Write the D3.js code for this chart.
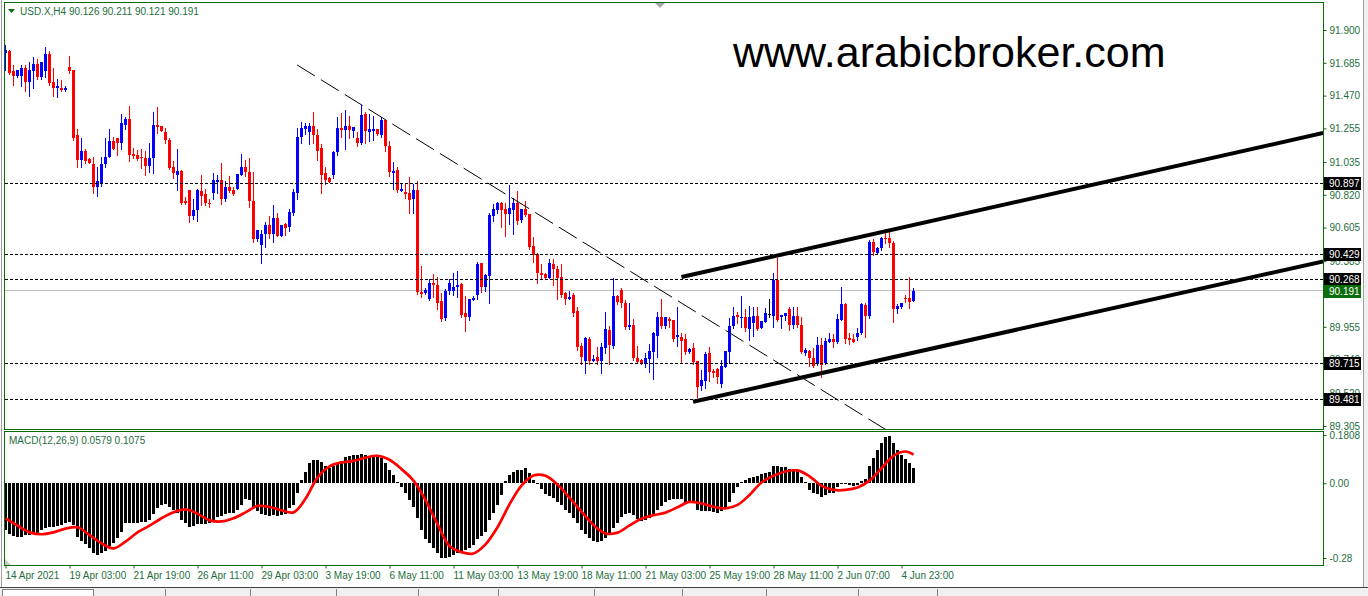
<!DOCTYPE html>
<html>
<head>
<meta charset="utf-8">
<script src="https://d3js.org/d3.v7.min.js"></script>
<style>
  body { margin: 0; background: #fff; }
  svg { display: block; font-family: "Liberation Sans", Arial, sans-serif; }
</style>
</head>
<body>
<svg id="chart" width="1368" height="596"></svg>
<script>
// USD.X H4 candles, [open, high, low, close]
const ohlc = [
  [91.75,91.80,91.64,91.77],[91.76,91.77,91.61,91.62],[91.63,91.67,91.54,91.60],[91.60,91.64,91.59,91.64],
  [91.60,91.67,91.53,91.65],[91.65,91.67,91.50,91.56],[91.56,91.69,91.47,91.64],[91.63,91.72,91.52,91.68],
  [91.68,91.71,91.58,91.59],[91.59,91.69,91.58,91.69],[91.63,91.79,91.59,91.74],[91.74,91.76,91.54,91.55],
  [91.56,91.65,91.47,91.52],[91.52,91.58,91.46,91.53],[91.52,91.57,91.50,91.51],[91.51,91.53,91.50,91.52],
  [91.66,91.73,91.62,91.63],[91.64,91.64,91.18,91.19],[91.21,91.25,91.00,91.05],[91.05,91.19,91.00,91.11],
  [91.11,91.12,91.03,91.04],[91.055,91.064,91.031,91.031],[91.02,91.07,90.83,90.87],[90.87,91.00,90.81,90.91],
  [90.90,91.07,90.88,91.02],[91.02,91.19,91.00,91.07],[91.07,91.25,91.07,91.17],[91.17,91.20,91.12,91.12],
  [91.19,91.19,91.08,91.16],[91.16,91.35,91.12,91.29],[91.28,91.33,91.25,91.32],[91.32,91.40,91.04,91.08],
  [91.085,91.13,91.064,91.074],[91.081,91.114,91.048,91.053],[91.068,91.118,90.994,91.059],[91.06,91.11,90.95,91.01],
  [91.01,91.16,90.97,91.06],[91.06,91.36,90.96,91.28],[91.278,91.395,91.227,91.267],[91.271,91.271,91.24,91.24],
  [91.23,91.26,91.16,91.18],[91.18,91.19,90.99,90.994],[91.00,91.04,90.93,90.96],[90.95,91.12,90.85,90.976],
  [90.976,90.98,90.76,90.764],[90.777,90.808,90.76,90.764],[90.85,90.85,90.64,90.68],[90.68,90.79,90.66,90.72],
  [90.72,90.86,90.65,90.85],[90.845,90.95,90.75,90.815],[90.825,90.856,90.756,90.764],[90.769,90.791,90.743,90.764],
  [90.83,90.96,90.79,90.92],[90.904,90.95,90.83,90.917],[90.92,91.03,90.76,90.79],[90.79,90.91,90.78,90.87],
  [90.874,90.943,90.841,90.845],[90.852,90.874,90.819,90.823],[90.858,90.957,90.856,90.957],[90.95,91.09,90.95,91.00],
  [91.00,91.05,90.94,90.97],[90.97,91.06,90.74,90.78],[90.78,90.97,90.51,90.53],[90.53,90.59,90.52,90.59],
  [90.49,90.59,90.37,90.56],[90.56,90.64,90.48,90.62],[90.62,90.68,90.54,90.56],[90.56,90.75,90.51,90.67],
  [90.67,90.70,90.55,90.55],[90.55,90.62,90.55,90.62],[90.627,90.633,90.557,90.605],[90.61,90.73,90.58,90.71],
  [90.70,90.86,90.69,90.84],[90.83,91.26,90.79,91.20],[91.20,91.30,91.16,91.26],[91.25,91.29,91.22,91.27],
  [91.23,91.29,91.15,91.27],[91.27,91.36,91.16,91.21],[91.21,91.25,91.05,91.11],[91.13,91.15,90.83,90.95],
  [90.96,91.00,90.89,90.92],[90.928,90.939,90.906,90.906],[90.95,91.11,90.93,91.10],[91.10,91.33,91.08,91.26],
  [91.258,91.358,91.197,91.245],[91.245,91.376,91.12,91.271],[91.271,91.337,91.19,91.245],[91.24,91.262,91.197,91.262],
  [91.19,91.234,91.14,91.162],[91.16,91.41,91.15,91.34],[91.35,91.36,91.16,91.24],[91.234,91.35,91.173,91.251],
  [91.24,91.337,91.179,91.251],[91.251,91.251,91.212,91.216],[91.21,91.33,91.20,91.31],[91.31,91.31,91.11,91.14],
  [91.14,91.17,90.94,90.97],[90.965,91.035,90.858,90.976],[90.98,91.00,90.84,90.85],[90.847,90.895,90.847,90.858],
  [90.836,90.891,90.797,90.826],[90.834,90.939,90.703,90.786],[90.793,90.891,90.703,90.852],[90.85,90.91,90.17,90.18],
  [90.186,90.354,90.153,90.170],[90.175,90.208,90.170,90.197],[90.14,90.27,90.13,90.24],[90.24,90.30,90.153,90.229],
  [90.23,90.28,90.07,90.11],[90.125,90.175,89.996,90.004],[90.01,90.20,90.00,90.19],[90.19,90.27,90.17,90.24],
  [90.192,90.306,90.164,90.218],[90.214,90.323,90.153,90.229],[90.236,90.24,90.017,90.033],[90.044,90.159,89.93,90.017],
  [90.022,90.135,90.00,90.135],[90.131,90.159,90.131,90.142],[90.164,90.382,90.135,90.367],[90.371,90.371,90.186,90.218],
  [90.218,90.301,90.192,90.295],[90.288,90.703,90.109,90.688],[90.684,90.76,90.651,90.725],[90.721,90.771,90.703,90.764],
  [90.764,90.771,90.611,90.721],[90.725,90.764,90.552,90.694],[90.694,90.884,90.629,90.732],[90.721,90.797,90.563,90.764],
  [90.764,90.843,90.627,90.651],[90.655,90.725,90.644,90.725],[90.725,90.78,90.681,90.688],[90.694,90.694,90.465,90.476],
  [90.485,90.546,90.382,90.426],[90.432,90.441,90.245,90.31],[90.306,90.367,90.273,90.295],[90.301,90.31,90.273,90.277],
  [90.273,90.397,90.273,90.376],[90.367,90.397,90.229,90.332],[90.336,90.354,90.137,90.273],[90.28,90.367,90.153,90.164],
  [90.175,90.186,90.105,90.135],[90.135,90.19,90.135,90.153],[90.164,90.179,90.026,90.048],[90.059,90.087,89.803,89.825],
  [89.83,89.847,89.712,89.76],[89.734,89.891,89.655,89.88],[89.876,89.891,89.712,89.734],[89.731,89.771,89.731,89.742],
  [89.755,89.825,89.712,89.731],[89.734,89.847,89.655,89.825],[89.814,90.055,89.782,89.941],[89.934,89.963,89.712,89.836],
  [89.83,90.273,89.814,90.157],[90.157,90.164,90.105,90.12],[90.197,90.208,90.087,90.114],[90.109,90.131,89.941,89.956],
  [89.956,90.109,89.939,89.967],[89.967,90.007,89.738,89.749],[89.749,89.83,89.727,89.727],[89.738,89.742,89.712,89.716],
  [89.712,89.786,89.69,89.749],[89.744,89.84,89.661,89.799],[89.792,89.919,89.611,89.913],[89.897,90.055,89.76,90.022],
  [90.022,90.135,89.945,89.963],[89.963,90.022,89.945,90.017],[90.006,90.017,89.956,89.996],[90.0,90.0,89.865,89.876],
  [89.886,90.087,89.83,89.902],[89.886,89.913,89.727,89.865],[89.876,89.908,89.777,89.792],[89.792,89.814,89.786,89.808],
  [89.814,89.847,89.712,89.727],[89.731,89.731,89.498,89.563],[89.567,89.672,89.541,89.607],[89.603,89.792,89.552,89.777],
  [89.786,89.825,89.603,89.657],[89.668,89.677,89.624,89.65],[89.677,89.683,89.585,89.629],[89.581,89.738,89.559,89.699],
  [89.694,89.797,89.69,89.797],[89.792,90.011,89.716,89.961],[89.963,90.087,89.945,90.026],[90.03,90.05,89.978,90.022],
  [90.015,90.159,89.952,90.022],[90.017,90.072,89.928,89.95],[89.941,90.092,89.869,90.022],[89.978,90.087,89.895,90.026],
  [90.028,90.087,89.934,89.941],[89.95,89.996,89.945,89.993],[89.989,90.076,89.985,90.044],[90.041,90.135,90.022,90.041],
  [90.026,90.306,89.956,90.262],[90.262,90.408,89.996,90.0],[90.022,90.033,89.945,90.033],[90.026,90.048,90.0,90.044],
  [90.07,90.087,89.934,89.967],[89.967,90.087,89.945,90.026],[90.026,90.087,89.956,89.967],[89.967,90.022,89.782,89.788],
  [89.786,89.814,89.771,89.803],[89.797,89.803,89.698,89.753],[89.753,89.814,89.694,89.701],[89.709,89.891,89.705,89.836],
  [89.836,89.88,89.629,89.705],[89.716,89.88,89.709,89.865],[89.858,89.913,89.858,89.876],[89.876,89.908,89.825,89.858],
  [89.858,90.039,89.851,90.004],[90.0,90.218,90.0,90.105],[90.105,90.109,89.847,89.873],[89.88,89.913,89.843,89.869],
  [89.873,89.908,89.858,89.858],[89.886,89.95,89.869,89.917],[89.917,90.109,89.908,90.103],[90.098,90.109,89.891,90.028],
  [90.026,90.524,90.011,90.513],[90.513,90.528,90.426,90.448],[90.441,90.48,90.441,90.47],[90.47,90.546,90.459,90.539],
  [90.535,90.594,90.502,90.528],[90.535,90.579,90.476,90.502],[90.502,90.52,89.989,90.07],[90.07,90.105,90.044,90.092],
  [90.083,90.114,90.076,90.114],[90.146,90.164,90.12,90.135],[90.142,90.284,90.081,90.12],[90.126,90.211,90.121,90.191]
];

// MACD(12,26,9) main values, one per candle
const macdMain = [
  -0.175,-0.191,-0.198,-0.203,-0.203,-0.194,-0.194,-0.191,-0.188,-0.175,
  -0.169,-0.165,-0.165,-0.160,-0.156,-0.150,-0.146,-0.156,-0.200,-0.215,
  -0.229,-0.244,-0.263,-0.269,-0.263,-0.253,-0.235,-0.223,-0.206,-0.181,
  -0.150,-0.150,-0.148,-0.148,-0.146,-0.144,-0.138,-0.115,-0.094,-0.081,
  -0.078,-0.088,-0.100,-0.113,-0.138,-0.150,-0.165,-0.160,-0.153,-0.153,
  -0.153,-0.150,-0.138,-0.128,-0.123,-0.115,-0.110,-0.110,-0.100,-0.081,
  -0.060,-0.063,-0.088,-0.103,-0.115,-0.119,-0.123,-0.119,-0.123,-0.119,
  -0.115,-0.094,-0.081,-0.035,0.013,0.044,0.075,0.088,0.088,0.078,
  0.065,0.056,0.063,0.073,0.085,0.100,0.103,0.106,0.106,0.109,
  0.106,0.103,0.100,0.098,0.094,0.075,0.050,0.031,0.006,-0.013,
  -0.038,-0.063,-0.088,-0.131,-0.175,-0.210,-0.225,-0.244,-0.263,-0.281,
  -0.281,-0.275,-0.269,-0.263,-0.256,-0.250,-0.244,-0.231,-0.210,-0.198,
  -0.181,-0.138,-0.110,-0.081,-0.044,0.010,0.031,0.044,0.048,0.050,
  0.056,0.038,0.013,-0.003,-0.023,-0.040,-0.048,-0.056,-0.069,-0.081,
  -0.100,-0.110,-0.131,-0.148,-0.175,-0.190,-0.206,-0.215,-0.219,-0.215,
  -0.206,-0.194,-0.169,-0.150,-0.128,-0.115,-0.113,-0.119,-0.135,-0.140,
  -0.138,-0.131,-0.115,-0.100,-0.085,-0.069,-0.063,-0.060,-0.060,-0.060,
  -0.069,-0.073,-0.075,-0.100,-0.103,-0.103,-0.103,-0.106,-0.113,-0.103,
  -0.094,-0.069,-0.038,-0.013,0.003,0.013,0.019,0.025,0.028,0.035,
  0.038,0.044,0.065,0.063,0.060,0.060,0.053,0.053,0.050,0.025,
  0.003,-0.025,-0.035,-0.040,-0.050,-0.044,-0.038,-0.038,-0.013,-0.002,
  -0.003,-0.006,-0.010,-0.006,0.010,0.015,0.063,0.094,0.125,0.150,
  0.175,0.178,0.150,0.125,0.106,0.090,0.075,0.0579
];

// signal line, read every third candle
const signalBar = [0,3,6,9,12,15,18,21,24,27,30,33,36,39,42,45,48,51,54,57,60,63,66,69,72,75,78,81,84,87,90,93,96,99,102,105,108,
  111,114,117,120,123,126,129,132,135,138,141,144,147,150,153,156,159,162,165,168,171,174,177,180,183,186,189,192,195,198,201,204,207,210,213,216,219,222,225,227];
const signalVal = [-0.131,-0.159,-0.184,-0.191,-0.184,-0.170,-0.165,-0.194,-0.225,-0.244,-0.219,-0.184,-0.159,-0.131,-0.109,-0.098,-0.114,-0.139,-0.143,-0.131,-0.109,-0.085,-0.089,-0.101,-0.109,-0.058,0.021,0.063,0.078,0.084,0.096,0.103,0.088,0.053,0.010,-0.063,-0.153,
  -0.235,-0.258,-0.263,-0.229,-0.165,-0.079,-0.009,0.029,0.028,-0.005,-0.054,-0.106,-0.156,-0.188,-0.185,-0.158,-0.133,-0.120,-0.110,-0.090,-0.070,-0.076,-0.088,-0.094,-0.081,-0.044,0.003,0.028,0.044,0.048,0.026,-0.010,-0.025,-0.025,-0.016,0.010,0.056,0.103,0.119,0.1075];

const priceTicks = [91.900,91.685,91.470,91.255,91.035,90.820,90.605,90.385,90.170,89.955,89.740,89.520,89.305];
const macdTicks = [0.1808, 0, -0.28];
const macdTickLabels = ['0.1808', '0.00', '-0.28'];
const timeBars = [0,16,32,48,64,80,96,112,128,144,160,176,192,208,224];
const timeLabels = ['14 Apr 2021','19 Apr 03:00','21 Apr 19:00','26 Apr 11:00','29 Apr 03:00','3 May 19:00','6 May 11:00',
  '11 May 03:00','13 May 19:00','18 May 11:00','21 May 03:00','25 May 19:00','28 May 11:00','2 Jun 07:00','4 Jun 23:00'];

const levels = [90.897, 90.429, 90.268, 89.715, 89.481];
const bidPrice = 90.191;
// trend lines: [bar1, price1, bar2, price2]
const channelLines = [[169, 90.281, 329.4, 91.225], [171.9, 89.464, 329.4, 90.384]];
const downLine = [72.9, 91.671, 222, 89.25];

// ---- layout ----
const W = 1368, H = 596;
const frame = '#0b6b0b', txt = '#1d6e3d';
const x = d3.scaleLinear().domain([0, 227]).range([5.5, 913.5]);
const y = d3.scaleLinear().domain([89.305, 91.9]).range([426, 30]);
const m = d3.scaleLinear().domain([-0.31, 0.1808]).range([566, 435]);

const svg = d3.select('#chart');
svg.append('rect').attr('width', W).attr('height', H).attr('fill', '#fff');

const defs = svg.append('defs');
defs.append('clipPath').attr('id', 'clipMain').append('rect').attr('x', 5).attr('y', 3).attr('width', 1318).attr('height', 426);
defs.append('clipPath').attr('id', 'clipMacd').append('rect').attr('x', 5).attr('y', 432).attr('width', 1318).attr('height', 133);

// window chrome
svg.append('line').attr('x1', 1.5).attr('x2', 1.5).attr('y1', 0).attr('y2', 587).attr('stroke', '#a0a0a0');
svg.append('rect').attr('x', 1363).attr('y', 0).attr('width', 5).attr('height', 596).attr('fill', '#f0f0f0');
svg.append('line').attr('x1', 1363.5).attr('x2', 1363.5).attr('y1', 0).attr('y2', 587).attr('stroke', '#a0a0a0');
svg.append('rect').attr('x', 0).attr('y', 587).attr('width', W).attr('height', 9).attr('fill', '#f0f0f0');
svg.append('line').attr('x1', 0).attr('x2', W).attr('y1', 587.5).attr('y2', 587.5).attr('stroke', '#404040');
svg.append('rect').attr('x', 2.5).attr('y', 589.5).attr('width', 91).attr('height', 8).attr('fill', '#fff').attr('stroke', '#808080');
[165, 250, 336, 418, 498, 594, 682, 766, 858, 937].forEach(t => {
  svg.append('line').attr('x1', t + 0.5).attr('x2', t + 0.5).attr('y1', 589).attr('y2', 596).attr('stroke', '#808080');
});

// frames
const fr = svg.append('g').attr('fill', 'none').attr('stroke', frame).attr('shape-rendering', 'crispEdges');
fr.append('rect').attr('x', 4.5).attr('y', 2.5).attr('width', 1319).attr('height', 427);
fr.append('rect').attr('x', 4.5).attr('y', 431.5).attr('width', 1319).attr('height', 134);

// shift marker and corner marker
svg.append('path').attr('d', 'M655,3L665,3L660,8Z').attr('fill', '#a8a8a8');
svg.append('path').attr('d', 'M5,559L5,565L11,565Z').attr('fill', '#c8c8c8');

// ---- main chart ----
const main = svg.append('g').attr('clip-path', 'url(#clipMain)');

main.append('line').attr('x1', 5).attr('x2', 1323).attr('y1', y(bidPrice)).attr('y2', y(bidPrice))
  .attr('stroke', '#c0c0c0').attr('shape-rendering', 'crispEdges');

const colorOf = d => d[3] > d[0] ? '#0000ff' : (d[3] < d[0] ? '#ff0000' : '#000000');
main.append('g').attr('shape-rendering', 'crispEdges').selectAll('line').data(ohlc).join('line')
  .attr('x1', (d, i) => x(i)).attr('x2', (d, i) => x(i))
  .attr('y1', d => Math.round(y(d[1]))).attr('y2', d => Math.round(y(d[2])) + 1)
  .attr('stroke', colorOf);
main.append('g').attr('shape-rendering', 'crispEdges').selectAll('rect').data(ohlc).join('rect')
  .attr('x', (d, i) => x(i) - 1.5).attr('width', 3)
  .attr('y', d => Math.round(y(Math.max(d[0], d[3]))))
  .attr('height', d => Math.max(1, Math.round(y(Math.min(d[0], d[3]))) - Math.round(y(Math.max(d[0], d[3])))))
  .attr('fill', colorOf);

// horizontal levels
main.append('g').selectAll('line').data(levels).join('line')
  .attr('x1', 5).attr('x2', 1323).attr('y1', d => Math.round(y(d)) + 0.5).attr('y2', d => Math.round(y(d)) + 0.5)
  .attr('stroke', '#000').attr('stroke-dasharray', '3,2');

// trend lines
main.append('line')
  .attr('x1', x(downLine[0])).attr('y1', y(downLine[1])).attr('x2', x(downLine[2])).attr('y2', y(downLine[3]))
  .attr('stroke', '#000').attr('stroke-width', 1).attr('stroke-dasharray', '21,7');
main.append('g').selectAll('line').data(channelLines).join('line')
  .attr('x1', d => x(d[0])).attr('y1', d => y(d[1])).attr('x2', d => x(d[2])).attr('y2', d => y(d[3]))
  .attr('stroke', '#000').attr('stroke-width', 4);

// watermark text
svg.append('text').attr('x', 733).attr('y', 67).attr('font-size', 43).attr('fill', '#000')
  .text('www.arabicbroker.com');

// title
svg.append('path').attr('d', 'M8,9L15,9L11.5,13Z').attr('fill', frame);
svg.append('text').attr('x', 20).attr('y', 15).attr('font-size', 10).attr('fill', txt)
  .text('USD.X,H4  90.126 90.211 90.121 90.191');

// right price axis
const ya = svg.append('g').attr('transform', 'translate(1323.5,0)')
  .call(d3.axisRight(y).tickValues(priceTicks).tickSize(3).tickPadding(3).tickFormat(d3.format('.3f')));
ya.select('.domain').remove();
ya.selectAll('line').attr('stroke', frame);
ya.selectAll('text').attr('fill', txt).attr('font-size', 10).attr('font-family', '"Liberation Sans", Arial, sans-serif');

// price labels
const tags = levels.map(v => ({ v, bg: '#000' })).concat([{ v: bidPrice, bg: '#0a6e0a' }]);
const tg = svg.append('g');
tg.selectAll('rect').data(tags).join('rect')
  .attr('x', 1324).attr('y', d => Math.round(y(d.v)) - 6).attr('width', 37).attr('height', 13).attr('fill', d => d.bg);
tg.selectAll('text').data(tags).join('text')
  .attr('x', 1329).attr('y', d => Math.round(y(d.v)) + 4).attr('font-size', 10).attr('fill', '#fff')
  .text(d => d.v.toFixed(3));

// ---- MACD ----
const mg = svg.append('g').attr('clip-path', 'url(#clipMacd)');
mg.append('g').attr('shape-rendering', 'crispEdges').selectAll('rect').data(macdMain).join('rect')
  .attr('x', (d, i) => x(i) - 1.5).attr('width', 3)
  .attr('y', d => Math.round(m(Math.max(d, 0))))
  .attr('height', d => Math.max(1, Math.round(m(Math.min(d, 0))) - Math.round(m(Math.max(d, 0)))))
  .attr('fill', '#000');
const sig = signalBar.map((b, k) => [b, signalVal[k]]);
mg.append('path').datum(sig)
  .attr('d', d3.line().x(d => x(d[0])).y(d => m(d[1])).curve(d3.curveCatmullRom.alpha(0.5)))
  .attr('fill', 'none').attr('stroke', '#ff0000').attr('stroke-width', 2.7);

svg.append('text').attr('x', 9).attr('y', 444).attr('font-size', 10).attr('fill', txt)
  .text('MACD(12,26,9) 0.0579 0.1075');

const ma = svg.append('g').attr('transform', 'translate(1323.5,0)')
  .call(d3.axisRight(m).tickValues(macdTicks).tickSize(3).tickPadding(3).tickFormat((d, i) => macdTickLabels[i]));
ma.select('.domain').remove();
ma.selectAll('line').attr('stroke', frame);
ma.selectAll('text').attr('fill', txt).attr('font-size', 10).attr('font-family', '"Liberation Sans", Arial, sans-serif');

// time axis
const xa = svg.append('g').attr('transform', 'translate(0,565.5)')
  .call(d3.axisBottom(x).tickValues(timeBars).tickSize(3).tickPadding(3).tickFormat((d, i) => timeLabels[i]));
xa.select('.domain').remove();
xa.selectAll('line').attr('stroke', frame);
xa.selectAll('text').attr('fill', txt).attr('font-size', 10).attr('text-anchor', 'start').attr('x', -0.5)
  .attr('font-family', '"Liberation Sans", Arial, sans-serif');
</script>
</body>
</html>
